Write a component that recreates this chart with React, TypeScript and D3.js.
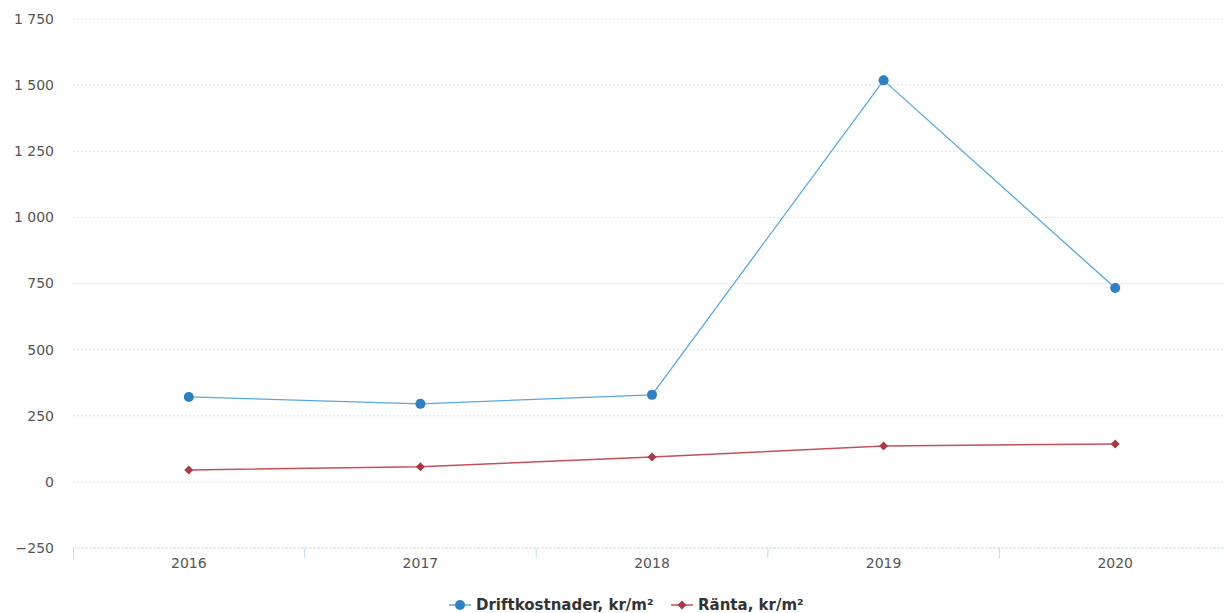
import React from "react";
import * as d3 from "d3";

const years = ["2016", "2017", "2018", "2019", "2020"];
const driftkostnader = [321, 295, 329, 1518, 733];
const ranta = [45, 57, 94, 136, 143];
const yTicks = [-250, 0, 250, 500, 750, 1000, 1250, 1500, 1750];
const seriesNames = ["Driftkostnader, kr/m²", "Ränta, kr/m²"];

const W = 1224;
const H = 613;

export default function App() {
  const x = d3.scaleBand<string>().domain(years).range([73, 1231]);
  const y = d3.scaleLinear().domain([-250, 1750]).range([548, 19]);
  const fmt = (v: number) => d3.format(",")(v).replace(/,/g, " ").replace("-", "−");
  const cx = (d: string) => (x(d) as number) + x.bandwidth() / 2;
  const line = d3
    .line<number>()
    .x((_, i) => cx(years[i]))
    .y((v) => y(v));
  const blue = "#5aa7e0";
  const blueDot = "#2f7fc1";
  const red = "#c4505a";
  const redDot = "#a83a45";
  const diamond = d3.symbol(d3.symbolSquare, 40)() as string;
  const boundaries = years.slice(1).map((d) => x(d) as number);

  return (
    <svg
      width={W}
      height={H}
      style={{ position: "absolute", left: 0, top: 0, background: "#fff" }}
      fontFamily="'DejaVu Sans', Verdana, sans-serif"
    >
      {yTicks.map((t) =>
        t === -250 ? null : (
          <line
            key={t}
            x1={73}
            x2={1224}
            y1={y(t)}
            y2={y(t)}
            stroke="#e0e0e0"
            strokeDasharray="2,2"
            strokeWidth={1}
          />
        )
      )}
      <line x1={73} x2={1224} y1={y(-250)} y2={y(-250)} stroke="#c6dcef" strokeWidth={1} strokeDasharray="3,1" />
      <line x1={73.5} x2={73.5} y1={y(-250)} y2={y(-250) + 12} stroke="#c6dcef" />
      {boundaries.map((b) => (
        <line key={b} x1={b} x2={b} y1={y(-250)} y2={y(-250) + 10} stroke="#c6dcef" />
      ))}
      {yTicks.map((t) => (
        <text key={t} x={54} y={y(t)} dy="0.35em" textAnchor="end" fontSize={14} fill="#555">
          {fmt(t)}
        </text>
      ))}
      {years.map((d) => (
        <text key={d} x={cx(d)} y={568} textAnchor="middle" fontSize={14} fill="#555">
          {d}
        </text>
      ))}
      <path d={line(ranta) as string} fill="none" stroke={red} strokeWidth={1.5} />
      <path d={line(driftkostnader) as string} fill="none" stroke={blue} strokeWidth={1.3} />
      {ranta.map((v, i) => (
        <path key={i} d={diamond} transform={`translate(${cx(years[i])},${y(v)}) rotate(45)`} fill={redDot} />
      ))}
      {driftkostnader.map((v, i) => (
        <circle key={i} cx={cx(years[i])} cy={y(v)} r={5} fill={blueDot} />
      ))}
      <g transform="translate(449,605)">
        <line x1={0} x2={22} y1={0} y2={0} stroke={blue} strokeWidth={1.5} />
        <circle cx={11} cy={0} r={5} fill={blueDot} />
        <text x={27} y={0} dy="0.35em" fontSize={15} fontWeight="bold" fill="#333">
          {seriesNames[0]}
        </text>
      </g>
      <g transform="translate(671,605)">
        <line x1={0} x2={22} y1={0} y2={0} stroke={red} strokeWidth={1.5} />
        <path d={diamond} transform="translate(11,0) rotate(45)" fill={redDot} />
        <text x={27} y={0} dy="0.35em" fontSize={15} fontWeight="bold" fill="#333">
          {seriesNames[1]}
        </text>
      </g>
    </svg>
  );
}
